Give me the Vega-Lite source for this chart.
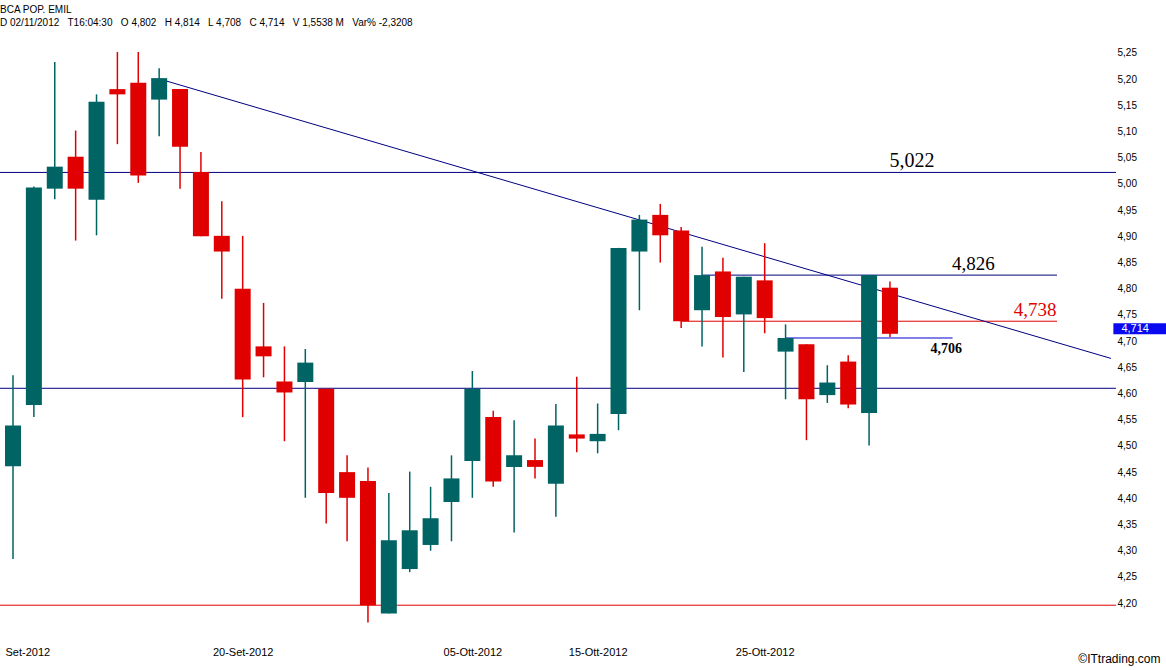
{
  "$schema": "https://vega.github.io/schema/vega-lite/v6.json",
  "width": 1116,
  "height": 614,
  "autosize": "none",
  "padding": {"left": 0, "top": 30, "right": 50, "bottom": 26},
  "background": "white",
  "config": {
    "view": {"stroke": null},
    "font": "Liberation Sans",
    "axisY": {"labelOverlap": false},
    "axisX": {"labelOverlap": false}
  },
  "title": {
    "text": ["BCA POP. EMIL", "D 02/11/2012\u00a0\u00a0 T16:04:30\u00a0\u00a0 O 4,802\u00a0\u00a0 H 4,814\u00a0\u00a0 L 4,708\u00a0\u00a0 C 4,714\u00a0\u00a0 V 1,5538 M\u00a0\u00a0 Var% -2,3208"],
    "anchor": "start",
    "frame": "group",
    "font": "Liberation Sans",
    "fontSize": 10,
    "fontWeight": "normal",
    "color": "black",
    "lineHeight": 13,
    "offset": 2
  },
  "datasets": {
    "candles": [
      {"n": 1, "date": "2012-09-05", "o": 4.461, "h": 4.635, "l": 4.284, "c": 4.539},
      {"n": 2, "date": "2012-09-06", "o": 4.578, "h": 4.995, "l": 4.555, "c": 4.993},
      {"n": 3, "date": "2012-09-07", "o": 4.991, "h": 5.233, "l": 4.971, "c": 5.033},
      {"n": 4, "date": "2012-09-10", "o": 5.052, "h": 5.102, "l": 4.892, "c": 4.991},
      {"n": 5, "date": "2012-09-11", "o": 4.970, "h": 5.171, "l": 4.902, "c": 5.157},
      {"n": 6, "date": "2012-09-12", "o": 5.181, "h": 5.252, "l": 5.076, "c": 5.171},
      {"n": 7, "date": "2012-09-13", "o": 5.193, "h": 5.252, "l": 5.002, "c": 5.016},
      {"n": 8, "date": "2012-09-14", "o": 5.161, "h": 5.221, "l": 5.091, "c": 5.202},
      {"n": 9, "date": "2012-09-17", "o": 5.181, "h": 5.181, "l": 4.991, "c": 5.071},
      {"n": 10, "date": "2012-09-18", "o": 5.023, "h": 5.061, "l": 4.900, "c": 4.900},
      {"n": 11, "date": "2012-09-19", "o": 4.901, "h": 4.967, "l": 4.781, "c": 4.871},
      {"n": 12, "date": "2012-09-20", "o": 4.800, "h": 4.901, "l": 4.555, "c": 4.627},
      {"n": 13, "date": "2012-09-21", "o": 4.690, "h": 4.773, "l": 4.631, "c": 4.671},
      {"n": 14, "date": "2012-09-24", "o": 4.623, "h": 4.690, "l": 4.509, "c": 4.602},
      {"n": 15, "date": "2012-09-25", "o": 4.622, "h": 4.685, "l": 4.401, "c": 4.659},
      {"n": 16, "date": "2012-09-26", "o": 4.609, "h": 4.609, "l": 4.352, "c": 4.410},
      {"n": 17, "date": "2012-09-27", "o": 4.450, "h": 4.482, "l": 4.318, "c": 4.401},
      {"n": 18, "date": "2012-09-28", "o": 4.433, "h": 4.459, "l": 4.163, "c": 4.196},
      {"n": 19, "date": "2012-10-01", "o": 4.180, "h": 4.410, "l": 4.180, "c": 4.320},
      {"n": 20, "date": "2012-10-02", "o": 4.265, "h": 4.451, "l": 4.259, "c": 4.339},
      {"n": 21, "date": "2012-10-03", "o": 4.311, "h": 4.422, "l": 4.300, "c": 4.362},
      {"n": 22, "date": "2012-10-04", "o": 4.393, "h": 4.482, "l": 4.318, "c": 4.438},
      {"n": 23, "date": "2012-10-05", "o": 4.471, "h": 4.643, "l": 4.401, "c": 4.609},
      {"n": 24, "date": "2012-10-08", "o": 4.555, "h": 4.567, "l": 4.422, "c": 4.432},
      {"n": 25, "date": "2012-10-09", "o": 4.460, "h": 4.549, "l": 4.335, "c": 4.482},
      {"n": 26, "date": "2012-10-10", "o": 4.473, "h": 4.514, "l": 4.438, "c": 4.460},
      {"n": 27, "date": "2012-10-11", "o": 4.428, "h": 4.580, "l": 4.365, "c": 4.539},
      {"n": 28, "date": "2012-10-12", "o": 4.522, "h": 4.632, "l": 4.488, "c": 4.514},
      {"n": 29, "date": "2012-10-15", "o": 4.509, "h": 4.581, "l": 4.486, "c": 4.523},
      {"n": 30, "date": "2012-10-16", "o": 4.561, "h": 4.878, "l": 4.530, "c": 4.878},
      {"n": 31, "date": "2012-10-17", "o": 4.871, "h": 4.941, "l": 4.759, "c": 4.932},
      {"n": 32, "date": "2012-10-18", "o": 4.941, "h": 4.962, "l": 4.850, "c": 4.902},
      {"n": 33, "date": "2012-10-19", "o": 4.911, "h": 4.918, "l": 4.725, "c": 4.738},
      {"n": 34, "date": "2012-10-22", "o": 4.759, "h": 4.880, "l": 4.690, "c": 4.826},
      {"n": 35, "date": "2012-10-23", "o": 4.833, "h": 4.859, "l": 4.669, "c": 4.746},
      {"n": 36, "date": "2012-10-24", "o": 4.751, "h": 4.823, "l": 4.641, "c": 4.823},
      {"n": 37, "date": "2012-10-25", "o": 4.816, "h": 4.887, "l": 4.715, "c": 4.744},
      {"n": 38, "date": "2012-10-26", "o": 4.680, "h": 4.732, "l": 4.589, "c": 4.706},
      {"n": 39, "date": "2012-10-29", "o": 4.694, "h": 4.694, "l": 4.511, "c": 4.589},
      {"n": 40, "date": "2012-10-30", "o": 4.597, "h": 4.654, "l": 4.582, "c": 4.621},
      {"n": 41, "date": "2012-10-31", "o": 4.661, "h": 4.673, "l": 4.572, "c": 4.579},
      {"n": 42, "date": "2012-11-01", "o": 4.563, "h": 4.826, "l": 4.501, "c": 4.826},
      {"n": 43, "date": "2012-11-02", "o": 4.802, "h": 4.814, "l": 4.708, "c": 4.714}
    ],
    "levels": [
      {"level": 5.022, "kind": "res", "label": "5,022", "from": null, "to": null, "at": 44.05},
      {"level": 4.61, "kind": "res", "label": null, "from": null, "to": null, "at": null},
      {"level": 4.196, "kind": "sup", "label": null, "from": null, "to": null, "at": null},
      {"level": 4.826, "kind": "res", "label": "4,826", "from": 34, "to": 51, "at": 47},
      {"level": 4.738, "kind": "sup", "label": "4,738", "from": 33, "to": 51, "at": 49.95},
      {"level": 4.706, "kind": "pivot", "label": "4,706", "from": 38, "to": 46, "at": 45.7}
    ],
    "trend": [
      {"n": 8, "p": 5.2005},
      {"n": 53.586, "p": 4.667}
    ],
    "last": [
      {"n": 53.7, "n2": 56.7, "price": 4.714, "label": "4,714"}
    ]
  },
  "layer": [
    {
      "data": {"name": "levels"},
      "transform": [{"filter": "datum.from == null"}],
      "mark": {"type": "rule", "strokeWidth": 1},
      "encoding": {
        "y": {
          "field": "level", "type": "quantitative",
          "scale": {"domain": [4.1315, 5.2843], "nice": false, "zero": false},
          "axis": {"orient": "right", "values": [4.2, 4.25, 4.3, 4.35, 4.4, 4.45, 4.5, 4.55, 4.6, 4.65, 4.7, 4.75, 4.8, 4.85, 4.9, 4.95, 5.0, 5.05, 5.1, 5.15, 5.2, 5.25], "labelExpr": "replace(format(datum.value, '.2f'), '.', ',')", "ticks": false, "domain": false, "grid": false, "labelPadding": 1, "labelFontSize": 10, "labelColor": "black", "labelFont": "Liberation Sans", "labelOverlap": false, "title": null}
        },
        "color": {
          "field": "kind", "type": "nominal",
          "scale": {"domain": ["res", "sup", "pivot"], "range": ["#000080", "#e00000", "#0000d0"]},
          "legend": null
        }
      }
    },
    {
      "data": {"name": "levels"},
      "transform": [{"filter": "datum.from != null"}],
      "mark": {"type": "rule", "strokeWidth": 1},
      "encoding": {
        "x": {
          "field": "from", "type": "quantitative",
          "scale": {"domain": [0.617, 53.586], "nice": false, "zero": false},
          "axis": {"values": [1, 12, 23, 29, 37], "labelExpr": "datum.value == 1 ? 'Set-2012' : datum.value == 12 ? '20-Set-2012' : datum.value == 23 ? '05-Ott-2012' : datum.value == 29 ? '15-Ott-2012' : '25-Ott-2012'", "labelFlush": false, "labelAlign": {"condition": {"test": "datum.value == 1", "value": "left"}, "value": "center"}, "labelOffset": {"condition": {"test": "datum.value == 1", "value": -8}, "value": 0}, "ticks": false, "domain": false, "grid": false, "labelPadding": 2, "labelFontSize": 11, "labelColor": "black", "labelFont": "Liberation Sans", "labelOverlap": false, "title": "©ITtrading.com", "titleAnchor": "end", "titleAlign": "right", "titleBaseline": "middle", "titleX": 1160, "titleY": 14, "titleFont": "Liberation Sans", "titleFontSize": 12, "titleFontWeight": "normal", "titleColor": "black"}
        },
        "x2": {"field": "to"},
        "y": {
          "field": "level", "type": "quantitative",
          "axis": {"orient": "right", "values": [4.2, 4.25, 4.3, 4.35, 4.4, 4.45, 4.5, 4.55, 4.6, 4.65, 4.7, 4.75, 4.8, 4.85, 4.9, 4.95, 5.0, 5.05, 5.1, 5.15, 5.2, 5.25], "labelExpr": "replace(format(datum.value, '.2f'), '.', ',')", "ticks": false, "domain": false, "grid": false, "labelPadding": 1, "labelFontSize": 10, "labelColor": "black", "labelFont": "Liberation Sans", "labelOverlap": false, "title": null}
        },
        "color": {"field": "kind", "type": "nominal", "legend": null}
      }
    },
    {
      "data": {"name": "trend"},
      "mark": {"type": "line", "color": "#000080", "strokeWidth": 1},
      "encoding": {
        "x": {
          "field": "n", "type": "quantitative",
          "axis": {"values": [1, 12, 23, 29, 37], "labelExpr": "datum.value == 1 ? 'Set-2012' : datum.value == 12 ? '20-Set-2012' : datum.value == 23 ? '05-Ott-2012' : datum.value == 29 ? '15-Ott-2012' : '25-Ott-2012'", "labelFlush": false, "labelAlign": {"condition": {"test": "datum.value == 1", "value": "left"}, "value": "center"}, "labelOffset": {"condition": {"test": "datum.value == 1", "value": -8}, "value": 0}, "ticks": false, "domain": false, "grid": false, "labelPadding": 2, "labelFontSize": 11, "labelColor": "black", "labelFont": "Liberation Sans", "labelOverlap": false, "title": "©ITtrading.com", "titleAnchor": "end", "titleAlign": "right", "titleBaseline": "middle", "titleX": 1160, "titleY": 14, "titleFont": "Liberation Sans", "titleFontSize": 12, "titleFontWeight": "normal", "titleColor": "black"}
        },
        "y": {
          "field": "p", "type": "quantitative",
          "axis": {"orient": "right", "values": [4.2, 4.25, 4.3, 4.35, 4.4, 4.45, 4.5, 4.55, 4.6, 4.65, 4.7, 4.75, 4.8, 4.85, 4.9, 4.95, 5.0, 5.05, 5.1, 5.15, 5.2, 5.25], "labelExpr": "replace(format(datum.value, '.2f'), '.', ',')", "ticks": false, "domain": false, "grid": false, "labelPadding": 1, "labelFontSize": 10, "labelColor": "black", "labelFont": "Liberation Sans", "labelOverlap": false, "title": null}
        }
      }
    },
    {
      "data": {"name": "candles"},
      "mark": {"type": "rule", "strokeWidth": 1.5},
      "encoding": {
        "x": {
          "field": "n", "type": "quantitative",
          "axis": {"values": [1, 12, 23, 29, 37], "labelExpr": "datum.value == 1 ? 'Set-2012' : datum.value == 12 ? '20-Set-2012' : datum.value == 23 ? '05-Ott-2012' : datum.value == 29 ? '15-Ott-2012' : '25-Ott-2012'", "labelFlush": false, "labelAlign": {"condition": {"test": "datum.value == 1", "value": "left"}, "value": "center"}, "labelOffset": {"condition": {"test": "datum.value == 1", "value": -8}, "value": 0}, "ticks": false, "domain": false, "grid": false, "labelPadding": 2, "labelFontSize": 11, "labelColor": "black", "labelFont": "Liberation Sans", "labelOverlap": false, "title": "©ITtrading.com", "titleAnchor": "end", "titleAlign": "right", "titleBaseline": "middle", "titleX": 1160, "titleY": 14, "titleFont": "Liberation Sans", "titleFontSize": 12, "titleFontWeight": "normal", "titleColor": "black"}
        },
        "y": {
          "field": "l", "type": "quantitative",
          "axis": {"orient": "right", "values": [4.2, 4.25, 4.3, 4.35, 4.4, 4.45, 4.5, 4.55, 4.6, 4.65, 4.7, 4.75, 4.8, 4.85, 4.9, 4.95, 5.0, 5.05, 5.1, 5.15, 5.2, 5.25], "labelExpr": "replace(format(datum.value, '.2f'), '.', ',')", "ticks": false, "domain": false, "grid": false, "labelPadding": 1, "labelFontSize": 10, "labelColor": "black", "labelFont": "Liberation Sans", "labelOverlap": false, "title": null}
        },
        "y2": {"field": "h"},
        "color": {"condition": {"test": "datum.c >= datum.o", "value": "#006464"}, "value": "#e00000"}
      }
    },
    {
      "data": {"name": "candles"},
      "mark": {"type": "bar", "size": 16},
      "encoding": {
        "x": {
          "field": "n", "type": "quantitative",
          "axis": {"values": [1, 12, 23, 29, 37], "labelExpr": "datum.value == 1 ? 'Set-2012' : datum.value == 12 ? '20-Set-2012' : datum.value == 23 ? '05-Ott-2012' : datum.value == 29 ? '15-Ott-2012' : '25-Ott-2012'", "labelFlush": false, "labelAlign": {"condition": {"test": "datum.value == 1", "value": "left"}, "value": "center"}, "labelOffset": {"condition": {"test": "datum.value == 1", "value": -8}, "value": 0}, "ticks": false, "domain": false, "grid": false, "labelPadding": 2, "labelFontSize": 11, "labelColor": "black", "labelFont": "Liberation Sans", "labelOverlap": false, "title": "©ITtrading.com", "titleAnchor": "end", "titleAlign": "right", "titleBaseline": "middle", "titleX": 1160, "titleY": 14, "titleFont": "Liberation Sans", "titleFontSize": 12, "titleFontWeight": "normal", "titleColor": "black"}
        },
        "y": {
          "field": "o", "type": "quantitative",
          "axis": {"orient": "right", "values": [4.2, 4.25, 4.3, 4.35, 4.4, 4.45, 4.5, 4.55, 4.6, 4.65, 4.7, 4.75, 4.8, 4.85, 4.9, 4.95, 5.0, 5.05, 5.1, 5.15, 5.2, 5.25], "labelExpr": "replace(format(datum.value, '.2f'), '.', ',')", "ticks": false, "domain": false, "grid": false, "labelPadding": 1, "labelFontSize": 10, "labelColor": "black", "labelFont": "Liberation Sans", "labelOverlap": false, "title": null}
        },
        "y2": {"field": "c"},
        "color": {"condition": {"test": "datum.c >= datum.o", "value": "#006464"}, "value": "#e00000"}
      }
    },
    {
      "data": {"name": "levels"},
      "transform": [{"filter": "datum.label != null && datum.kind != 'pivot'"}],
      "mark": {"type": "text", "font": "Liberation Serif", "fontSize": 19, "baseline": "alphabetic", "align": "center", "dy": -5},
      "encoding": {
        "x": {
          "field": "at", "type": "quantitative",
          "axis": {"values": [1, 12, 23, 29, 37], "labelExpr": "datum.value == 1 ? 'Set-2012' : datum.value == 12 ? '20-Set-2012' : datum.value == 23 ? '05-Ott-2012' : datum.value == 29 ? '15-Ott-2012' : '25-Ott-2012'", "labelFlush": false, "labelAlign": {"condition": {"test": "datum.value == 1", "value": "left"}, "value": "center"}, "labelOffset": {"condition": {"test": "datum.value == 1", "value": -8}, "value": 0}, "ticks": false, "domain": false, "grid": false, "labelPadding": 2, "labelFontSize": 11, "labelColor": "black", "labelFont": "Liberation Sans", "labelOverlap": false, "title": "©ITtrading.com", "titleAnchor": "end", "titleAlign": "right", "titleBaseline": "middle", "titleX": 1160, "titleY": 14, "titleFont": "Liberation Sans", "titleFontSize": 12, "titleFontWeight": "normal", "titleColor": "black"}
        },
        "y": {
          "field": "level", "type": "quantitative",
          "axis": {"orient": "right", "values": [4.2, 4.25, 4.3, 4.35, 4.4, 4.45, 4.5, 4.55, 4.6, 4.65, 4.7, 4.75, 4.8, 4.85, 4.9, 4.95, 5.0, 5.05, 5.1, 5.15, 5.2, 5.25], "labelExpr": "replace(format(datum.value, '.2f'), '.', ',')", "ticks": false, "domain": false, "grid": false, "labelPadding": 1, "labelFontSize": 10, "labelColor": "black", "labelFont": "Liberation Sans", "labelOverlap": false, "title": null}
        },
        "text": {"field": "label"},
        "size": {"condition": {"test": "datum.label == '5,022'", "value": 20}, "value": 19},
        "color": {"condition": {"test": "datum.kind == 'sup'", "value": "#e00000"}, "value": "black"}
      }
    },
    {
      "data": {"name": "levels"},
      "transform": [{"filter": "datum.kind == 'pivot'"}],
      "mark": {"type": "text", "font": "Liberation Serif", "fontSize": 14, "fontWeight": "bold", "baseline": "alphabetic", "align": "center", "dy": 15, "color": "black"},
      "encoding": {
        "x": {
          "field": "at", "type": "quantitative",
          "axis": {"values": [1, 12, 23, 29, 37], "labelExpr": "datum.value == 1 ? 'Set-2012' : datum.value == 12 ? '20-Set-2012' : datum.value == 23 ? '05-Ott-2012' : datum.value == 29 ? '15-Ott-2012' : '25-Ott-2012'", "labelFlush": false, "labelAlign": {"condition": {"test": "datum.value == 1", "value": "left"}, "value": "center"}, "labelOffset": {"condition": {"test": "datum.value == 1", "value": -8}, "value": 0}, "ticks": false, "domain": false, "grid": false, "labelPadding": 2, "labelFontSize": 11, "labelColor": "black", "labelFont": "Liberation Sans", "labelOverlap": false, "title": "©ITtrading.com", "titleAnchor": "end", "titleAlign": "right", "titleBaseline": "middle", "titleX": 1160, "titleY": 14, "titleFont": "Liberation Sans", "titleFontSize": 12, "titleFontWeight": "normal", "titleColor": "black"}
        },
        "y": {
          "field": "level", "type": "quantitative",
          "axis": {"orient": "right", "values": [4.2, 4.25, 4.3, 4.35, 4.4, 4.45, 4.5, 4.55, 4.6, 4.65, 4.7, 4.75, 4.8, 4.85, 4.9, 4.95, 5.0, 5.05, 5.1, 5.15, 5.2, 5.25], "labelExpr": "replace(format(datum.value, '.2f'), '.', ',')", "ticks": false, "domain": false, "grid": false, "labelPadding": 1, "labelFontSize": 10, "labelColor": "black", "labelFont": "Liberation Sans", "labelOverlap": false, "title": null}
        },
        "text": {"field": "label"}
      }
    },
    {
      "data": {"name": "last"},
      "mark": {"type": "bar", "size": 11, "color": "#0a0af0", "yOffset": -5, "orient": "horizontal"},
      "encoding": {
        "x": {
          "field": "n", "type": "quantitative",
          "axis": {"values": [1, 12, 23, 29, 37], "labelExpr": "datum.value == 1 ? 'Set-2012' : datum.value == 12 ? '20-Set-2012' : datum.value == 23 ? '05-Ott-2012' : datum.value == 29 ? '15-Ott-2012' : '25-Ott-2012'", "labelFlush": false, "labelAlign": {"condition": {"test": "datum.value == 1", "value": "left"}, "value": "center"}, "labelOffset": {"condition": {"test": "datum.value == 1", "value": -8}, "value": 0}, "ticks": false, "domain": false, "grid": false, "labelPadding": 2, "labelFontSize": 11, "labelColor": "black", "labelFont": "Liberation Sans", "labelOverlap": false, "title": "©ITtrading.com", "titleAnchor": "end", "titleAlign": "right", "titleBaseline": "middle", "titleX": 1160, "titleY": 14, "titleFont": "Liberation Sans", "titleFontSize": 12, "titleFontWeight": "normal", "titleColor": "black"}
        },
        "x2": {"field": "n2"},
        "y": {
          "field": "price", "type": "quantitative",
          "axis": {"orient": "right", "values": [4.2, 4.25, 4.3, 4.35, 4.4, 4.45, 4.5, 4.55, 4.6, 4.65, 4.7, 4.75, 4.8, 4.85, 4.9, 4.95, 5.0, 5.05, 5.1, 5.15, 5.2, 5.25], "labelExpr": "replace(format(datum.value, '.2f'), '.', ',')", "ticks": false, "domain": false, "grid": false, "labelPadding": 1, "labelFontSize": 10, "labelColor": "black", "labelFont": "Liberation Sans", "labelOverlap": false, "title": null}
        }
      }
    },
    {
      "data": {"name": "last"},
      "mark": {"type": "text", "color": "white", "fontSize": 11, "font": "Liberation Sans", "align": "left", "baseline": "middle", "dx": 8, "dy": -5},
      "encoding": {
        "x": {
          "field": "n", "type": "quantitative",
          "axis": {"values": [1, 12, 23, 29, 37], "labelExpr": "datum.value == 1 ? 'Set-2012' : datum.value == 12 ? '20-Set-2012' : datum.value == 23 ? '05-Ott-2012' : datum.value == 29 ? '15-Ott-2012' : '25-Ott-2012'", "labelFlush": false, "labelAlign": {"condition": {"test": "datum.value == 1", "value": "left"}, "value": "center"}, "labelOffset": {"condition": {"test": "datum.value == 1", "value": -8}, "value": 0}, "ticks": false, "domain": false, "grid": false, "labelPadding": 2, "labelFontSize": 11, "labelColor": "black", "labelFont": "Liberation Sans", "labelOverlap": false, "title": "©ITtrading.com", "titleAnchor": "end", "titleAlign": "right", "titleBaseline": "middle", "titleX": 1160, "titleY": 14, "titleFont": "Liberation Sans", "titleFontSize": 12, "titleFontWeight": "normal", "titleColor": "black"}
        },
        "y": {
          "field": "price", "type": "quantitative",
          "axis": {"orient": "right", "values": [4.2, 4.25, 4.3, 4.35, 4.4, 4.45, 4.5, 4.55, 4.6, 4.65, 4.7, 4.75, 4.8, 4.85, 4.9, 4.95, 5.0, 5.05, 5.1, 5.15, 5.2, 5.25], "labelExpr": "replace(format(datum.value, '.2f'), '.', ',')", "ticks": false, "domain": false, "grid": false, "labelPadding": 1, "labelFontSize": 10, "labelColor": "black", "labelFont": "Liberation Sans", "labelOverlap": false, "title": null}
        },
        "text": {"field": "label"}
      }
    }
  ]
}
